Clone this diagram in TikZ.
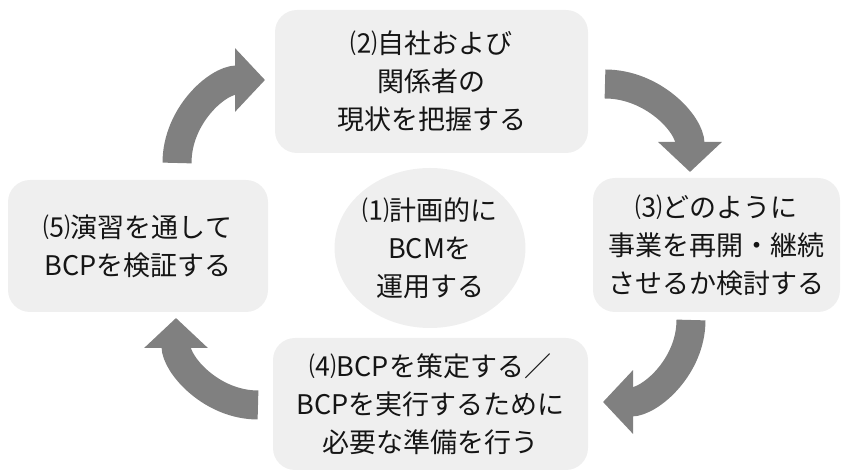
\documentclass[tikz,border=0pt]{standalone}
\usepackage{fontspec}
\setmainfont{Noto Sans CJK JP}
\usetikzlibrary{arrows.meta,shapes.geometric}
\definecolor{boxgray}{HTML}{EFEFEF}
\definecolor{arrowgray}{HTML}{808080}
\definecolor{txtgray}{HTML}{151515}
\tikzstyle{stage}=[rectangle,rounded corners=22pt,fill=boxgray,text=txtgray,align=center,inner sep=0pt,font=\fontsize{27}{38}\selectfont]
\tikzstyle{turn}=[draw=arrowgray,line width=29pt,-{Triangle[length=30pt,width=62pt]}]

\begin{document}
\begin{tikzpicture}[x=1pt,y=1pt]
      \useasboundingbox (0,0) rectangle (841,473);
      \node[stage,minimum width=313pt,minimum height=143pt] (s2) at (431.5,391.5) {⑵自社および\\関係者の\\現状を把握する};
      \node[stage,minimum width=247pt,minimum height=134pt] (s3) at (716.5,228) {⑶どのように\\事業を再開・継続\\させるか検討する};
      \node[stage,minimum width=315pt,minimum height=132pt] (s4) at (430.5,69) {⑷BCPを策定する／\\BCPを実行するために\\必要な準備を行う};
      \node[stage,minimum width=260pt,minimum height=132pt] (s5) at (138,227) {⑸演習を通して\\BCPを検証する};
      \node[stage,ellipse,minimum width=190pt,minimum height=160pt] (s1) at (430,225) {⑴計画的に\\BCMを\\運用する};
      \coordinate (t52) at (177,310);
      \coordinate (h52) at (265,393);
      \coordinate (t23) at (605,389);
      \coordinate (h23) at (690,301);
      \coordinate (t34) at (691,153);
      \coordinate (h34) at (603,71);
      \coordinate (t45) at (258,68);
      \coordinate (h45) at (176,155);
      \draw[turn] (t52) to[out=90,in=180] (h52);
      \draw[turn] (t23) to[out=0,in=90] (h23);
      \draw[turn] (t34) to[out=-90,in=0] (h34);
      \draw[turn] (t45) to[out=180,in=-90] (h45);
    \end{tikzpicture}
\end{document}
